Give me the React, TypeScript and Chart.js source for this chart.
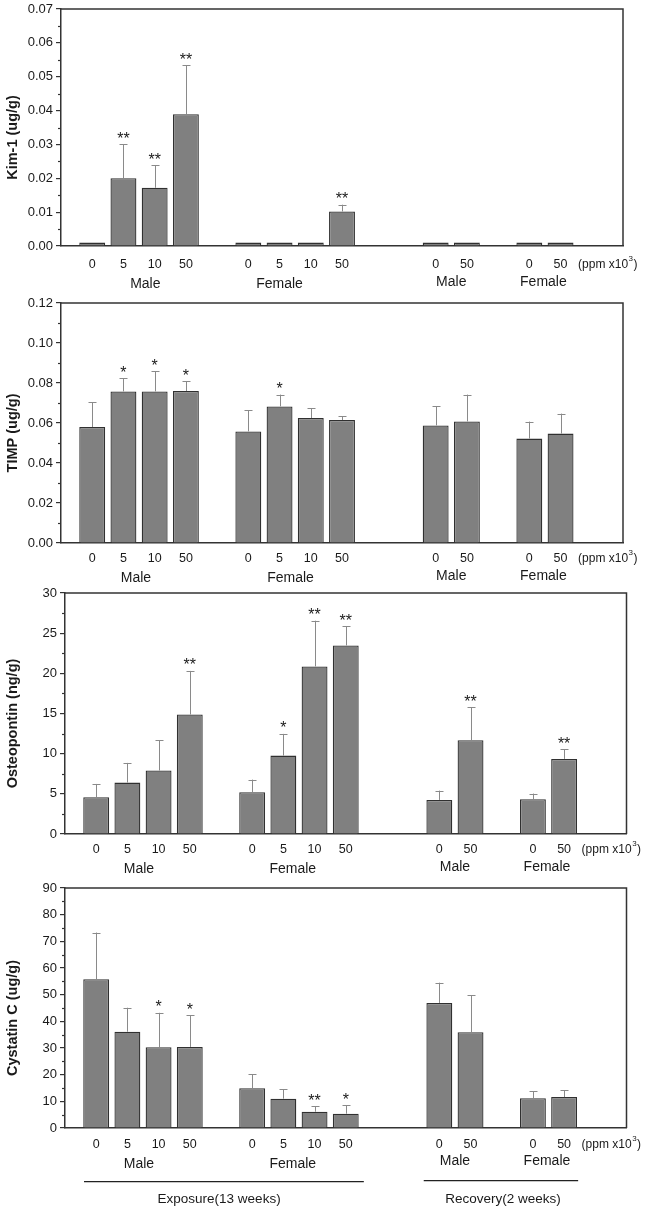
import { useEffect, useRef } from "react";
import { Chart, registerables } from "chart.js";

Chart.register(...registerables);

const FONT = "'Liberation Sans', Arial, Helvetica, sans-serif";
Chart.defaults.font.family = FONT;

// ---- category layout (slot indices on the category axis) ----
const SLOT_COUNT = 19;
const EXPOSURE_SLOTS = [1, 2, 3, 4, 6, 7, 8, 9];
const RECOVERY_SLOTS = [12, 13, 15, 16];
const exposureDoseLabels = ["0", "5", "10", "50"];
const recoveryDoseLabels = ["0", "50"];
const groupNames = ["Male", "Female"];
const unitText = "(ppm x10";
const unitSup = "3";
const periodLabels = ["Exposure(13 weeks)", "Recovery(2 weeks)"];

// ---- Kim-1 (ug/g) ----
const kimExpMale = [0.001, 0.02, 0.0172, 0.0389];
const kimExpMaleSd = [0, 0.01, 0.0067, 0.0145];
const kimExpMaleSig = ["", "**", "**", "**"];
const kimExpFemale = [0.001, 0.001, 0.001, 0.0102];
const kimExpFemaleSd = [0, 0, 0, 0.002];
const kimExpFemaleSig = ["", "", "", "**"];
const kimRecMale = [0.001, 0.001];
const kimRecMaleSd = [0, 0];
const kimRecMaleSig = ["", ""];
const kimRecFemale = [0.001, 0.001];
const kimRecFemaleSd = [0, 0];
const kimRecFemaleSig = ["", ""];

// ---- TIMP (ug/g) ----
const timpExpMale = [0.058, 0.0758, 0.0758, 0.076];
const timpExpMaleSd = [0.0125, 0.0065, 0.0102, 0.005];
const timpExpMaleSig = ["", "*", "*", "*"];
const timpExpFemale = [0.0558, 0.0683, 0.0625, 0.0615];
const timpExpFemaleSd = [0.0105, 0.0059, 0.005, 0.002];
const timpExpFemaleSig = ["", "*", "", ""];
const timpRecMale = [0.0588, 0.0608];
const timpRecMaleSd = [0.0095, 0.0134];
const timpRecMaleSig = ["", ""];
const timpRecFemale = [0.0522, 0.0547];
const timpRecFemaleSd = [0.0085, 0.01];
const timpRecFemaleSig = ["", ""];

// ---- Osteopontin (ng/g) ----
const opnExpMale = [4.57, 6.4, 7.9, 14.87];
const opnExpMaleSd = [1.66, 2.45, 3.77, 5.43];
const opnExpMaleSig = ["", "", "", "**"];
const opnExpFemale = [5.2, 9.76, 20.86, 23.47];
const opnExpFemaleSd = [1.57, 2.7, 5.69, 2.41];
const opnExpFemaleSig = ["", "*", "**", "**"];
const opnRecMale = [4.24, 11.67];
const opnRecMaleSd = [1.16, 4.12];
const opnRecMaleSig = ["", "**"];
const opnRecFemale = [4.32, 9.35];
const opnRecFemaleSd = [0.71, 1.2];
const opnRecFemaleSig = ["", "**"];

// ---- Cystatin C (ug/g) ----
const cysExpMale = [55.8, 36.1, 30.3, 30.4];
const cysExpMaleSd = [17.5, 9.0, 12.9, 11.8];
const cysExpMaleSig = ["", "", "*", "*"];
const cysExpFemale = [14.95, 11.0, 6.1, 5.36];
const cysExpFemaleSd = [5.25, 3.6, 2.1, 3.24];
const cysExpFemaleSig = ["", "", "**", "*"];
const cysRecMale = [46.9, 35.9];
const cysRecMaleSd = [7.6, 13.9];
const cysRecMaleSig = ["", ""];
const cysRecFemale = [11.2, 11.6];
const cysRecFemaleSd = [2.5, 2.6];
const cysRecFemaleSig = ["", ""];

// ---- y axes ----
const yTitles = ["Kim-1 (ug/g)", "TIMP (ug/g)", "Osteopontin (ng/g)", "Cystatin C (ug/g)"];
const yMaxes = [0.07, 0.12, 30, 90];
const ySteps = [0.01, 0.02, 5, 10];
const yDecimals = [2, 2, 0, 0];

type Layout = {
  top: number; bottom: number; left: number; right: number;
  bottomSpace: number; tickGap: number; expGroupDy: number; recGroupDy: number;
  maleU: number; femaleU: number; periods: boolean;
};

const layouts: Layout[] = [
  { top: 9.3, bottom: 246.3, left: 61, right: 623, bottomSpace: 52, tickGap: 11, expGroupDy: 38.5, recGroupDy: 36.5, maleU: 2.7, femaleU: 7.0, periods: false },
  { top: 303.3, bottom: 543.3, left: 61, right: 623, bottomSpace: 46, tickGap: 8, expGroupDy: 35, recGroupDy: 33, maleU: 2.4, femaleU: 7.35, periods: false },
  { top: 592.7, bottom: 833.3, left: 65, right: 626.5, bottomSpace: 46, tickGap: 8, expGroupDy: 35, recGroupDy: 33, maleU: 2.37, femaleU: 7.3, periods: false },
  { top: 888.3, bottom: 1128.3, left: 65, right: 626.5, bottomSpace: 84, tickGap: 9, expGroupDy: 35.7, recGroupDy: 33.4, maleU: 2.37, femaleU: 7.3, periods: true },
];

type PanelData = {
  values: number[]; sds: number[]; sigs: string[];
};

function assemble(expM: any[], expF: any[], recM: any[], recF: any[]) {
  const out: any[] = new Array(SLOT_COUNT).fill(null);
  const exp = [...expM, ...expF];
  const rec = [...recM, ...recF];
  EXPOSURE_SLOTS.forEach((s, i) => (out[s] = exp[i]));
  RECOVERY_SLOTS.forEach((s, i) => (out[s] = rec[i]));
  return out;
}

const panels: PanelData[] = [
  {
    values: assemble(kimExpMale, kimExpFemale, kimRecMale, kimRecFemale),
    sds: assemble(kimExpMaleSd, kimExpFemaleSd, kimRecMaleSd, kimRecFemaleSd),
    sigs: assemble(kimExpMaleSig, kimExpFemaleSig, kimRecMaleSig, kimRecFemaleSig),
  },
  {
    values: assemble(timpExpMale, timpExpFemale, timpRecMale, timpRecFemale),
    sds: assemble(timpExpMaleSd, timpExpFemaleSd, timpRecMaleSd, timpRecFemaleSd),
    sigs: assemble(timpExpMaleSig, timpExpFemaleSig, timpRecMaleSig, timpRecFemaleSig),
  },
  {
    values: assemble(opnExpMale, opnExpFemale, opnRecMale, opnRecFemale),
    sds: assemble(opnExpMaleSd, opnExpFemaleSd, opnRecMaleSd, opnRecFemaleSd),
    sigs: assemble(opnExpMaleSig, opnExpFemaleSig, opnRecMaleSig, opnRecFemaleSig),
  },
  {
    values: assemble(cysExpMale, cysExpFemale, cysRecMale, cysRecFemale),
    sds: assemble(cysExpMaleSd, cysExpFemaleSd, cysRecMaleSd, cysRecFemaleSd),
    sigs: assemble(cysExpMaleSig, cysExpFemaleSig, cysRecMaleSig, cysRecFemaleSig),
  },
];

const tickLabels: string[] = assemble(exposureDoseLabels, exposureDoseLabels, recoveryDoseLabels, recoveryDoseLabels).map(
  (v) => (v == null ? "" : v)
);

const PAD_TOP = 20;
const AXIS = "#333333";
const TEXT = "#1a1a1a";

function makeDecor(idx: number) {
  const L = layouts[idx];
  const P = panels[idx];
  return {
    id: "decor" + idx,
    afterDraw(chart: any) {
      const ctx = chart.ctx as CanvasRenderingContext2D;
      const ca = chart.chartArea;
      const xs = chart.scales.x;
      const ys = chart.scales.y;
      const meta = chart.getDatasetMeta(0);
      const unit = xs.getPixelForValue(1) - xs.getPixelForValue(0);
      const ux = (u: number) => xs.getPixelForValue(0) + u * unit;
      ctx.save();

      // frame top/right
      ctx.strokeStyle = AXIS;
      ctx.lineWidth = 1.5;
      ctx.beginPath();
      ctx.moveTo(ca.left, ca.top);
      ctx.lineTo(ca.right, ca.top);
      ctx.lineTo(ca.right, ca.bottom);
      ctx.stroke();

      // minor ticks
      ctx.lineWidth = 1.2;
      const step = ySteps[idx];
      for (let v = step / 2; v < yMaxes[idx]; v += step) {
        const y = Math.round(ys.getPixelForValue(v)) + 0.5;
        ctx.beginPath();
        ctx.moveTo(ca.left - 3, y);
        ctx.lineTo(ca.left, y);
        ctx.stroke();
      }

      // error bars + significance
      ctx.strokeStyle = "#8a8a8a";
      ctx.lineWidth = 1;
      ctx.fillStyle = TEXT;
      ctx.textAlign = "center";
      ctx.textBaseline = "alphabetic";
      ctx.font = `16px ${FONT}`;
      P.values.forEach((v: any, i: number) => {
        if (v == null) return;
        const bar = meta.data[i];
        const x = Math.round(bar.x) + 0.5;
        const yBar = ys.getPixelForValue(v);
        const sd = P.sds[i] || 0;
        const yTop = ys.getPixelForValue(v + sd);
        if (sd > 0) {
          ctx.beginPath();
          ctx.moveTo(x, yBar);
          ctx.lineTo(x, yTop);
          ctx.moveTo(x - 4, Math.round(yTop) + 0.5);
          ctx.lineTo(x + 4, Math.round(yTop) + 0.5);
          ctx.stroke();
        }
        const sig = P.sigs[i];
        if (sig) {
          ctx.fillText(sig, bar.x, yTop - 0.5);
        }
      });

      // y title
      ctx.save();
      ctx.translate(12.5, (ca.top + ca.bottom) / 2 + 10);
      ctx.rotate(-Math.PI / 2);
      ctx.font = `bold 14.5px ${FONT}`;
      ctx.textBaseline = "middle";
      ctx.textAlign = "center";
      ctx.fillText(yTitles[idx], 0, 0);
      ctx.restore();

      // group labels
      ctx.font = `14px ${FONT}`;
      ctx.textBaseline = "middle";
      ctx.textAlign = "center";
      ctx.fillText(groupNames[0], ux(L.maleU), ca.bottom + L.expGroupDy);
      ctx.fillText(groupNames[1], ux(L.femaleU), ca.bottom + L.expGroupDy);
      ctx.fillText(groupNames[0], ux(12.5), ca.bottom + L.recGroupDy);
      ctx.fillText(groupNames[1], ux(15.45), ca.bottom + L.recGroupDy);

      // unit label
      const uy = ca.bottom + L.tickGap + 7.2;
      let x0 = xs.getPixelForValue(16) + 17.5;
      ctx.textAlign = "left";
      ctx.font = `12px ${FONT}`;
      ctx.fillText(unitText, x0, uy);
      x0 += ctx.measureText(unitText).width + 0.5;
      ctx.font = `8px ${FONT}`;
      ctx.fillText(unitSup, x0, uy - 5);
      x0 += ctx.measureText(unitSup).width + 0.5;
      ctx.font = `12px ${FONT}`;
      ctx.fillText(")", x0, uy);

      if (L.periods) {
        ctx.strokeStyle = "#222222";
        ctx.lineWidth = 1.3;
        const ly1 = ca.bottom + 53.7;
        const ly2 = ca.bottom + 52.7;
        ctx.beginPath();
        ctx.moveTo(ux(0.61), ly1);
        ctx.lineTo(ux(9.58), ly1);
        ctx.moveTo(ux(11.5), ly2);
        ctx.lineTo(ux(16.45), ly2);
        ctx.stroke();
        ctx.font = `13.5px ${FONT}`;
        ctx.textAlign = "center";
        ctx.fillText(periodLabels[0], ux(4.94), ca.bottom + 71);
        ctx.fillText(periodLabels[1], ux(14.04), ca.bottom + 71);
      }
      ctx.restore();
    },
  };
}

function Panel({ idx }: { idx: number }) {
  const ref = useRef<HTMLCanvasElement | null>(null);
  const L = layouts[idx];
  const canvasTop = L.top - PAD_TOP;
  const height = Math.round(L.bottom - L.top + PAD_TOP + L.bottomSpace);
  useEffect(() => {
    if (!ref.current) return;
    const P = panels[idx];
    const chart = new Chart(ref.current, {
      type: "bar",
      data: {
        labels: tickLabels,
        datasets: [
          {
            data: P.values,
            backgroundColor: "#808080",
            borderColor: "#303030",
            borderWidth: 1.3,
            barPercentage: 1,
            categoryPercentage: 0.83,
          },
        ],
      },
      options: {
        animation: false,
        responsive: false,
        maintainAspectRatio: false,
        devicePixelRatio: 1,
        layout: { padding: { top: PAD_TOP, left: 0, right: 645 - L.right, bottom: 0 } },
        plugins: { legend: { display: false }, tooltip: { enabled: false }, title: { display: false } },
        scales: {
          x: {
            type: "category",
            offset: false,
            grid: { display: false, drawTicks: false },
            border: { display: true, color: AXIS, width: 1.5 },
            ticks: {
              autoSkip: false,
              maxRotation: 0,
              minRotation: 0,
              padding: L.tickGap,
              color: TEXT,
              font: { family: FONT, size: 12.5 },
            },
            afterFit: (s: any) => {
              s.height = L.bottomSpace;
            },
          },
          y: {
            type: "linear",
            min: 0,
            max: yMaxes[idx],
            ticks: {
              stepSize: ySteps[idx],
              padding: 3,
              color: TEXT,
              font: { family: FONT, size: 13 },
              callback: (v: any) => Number(v).toFixed(yDecimals[idx]),
            },
            grid: { drawOnChartArea: false, drawTicks: true, tickLength: 5, color: AXIS, lineWidth: 1.2 },
            border: { display: true, color: AXIS, width: 1.5 },
            afterFit: (s: any) => {
              s.width = L.left;
            },
          },
        },
      },
      plugins: [makeDecor(idx)],
    } as any);
    return () => chart.destroy();
  }, [idx]);
  return (
    <canvas
      ref={ref}
      width={645}
      height={height}
      style={{ position: "absolute", left: 0, top: canvasTop, width: 645, height, display: "block" }}
    />
  );
}

export default function App() {
  return (
    <div style={{ position: "absolute", left: 0, top: 0, width: 645, height: 1211, background: "#ffffff", overflow: "hidden" }}>
      {layouts.map((_, i) => (
        <Panel key={i} idx={i} />
      ))}
    </div>
  );
}
